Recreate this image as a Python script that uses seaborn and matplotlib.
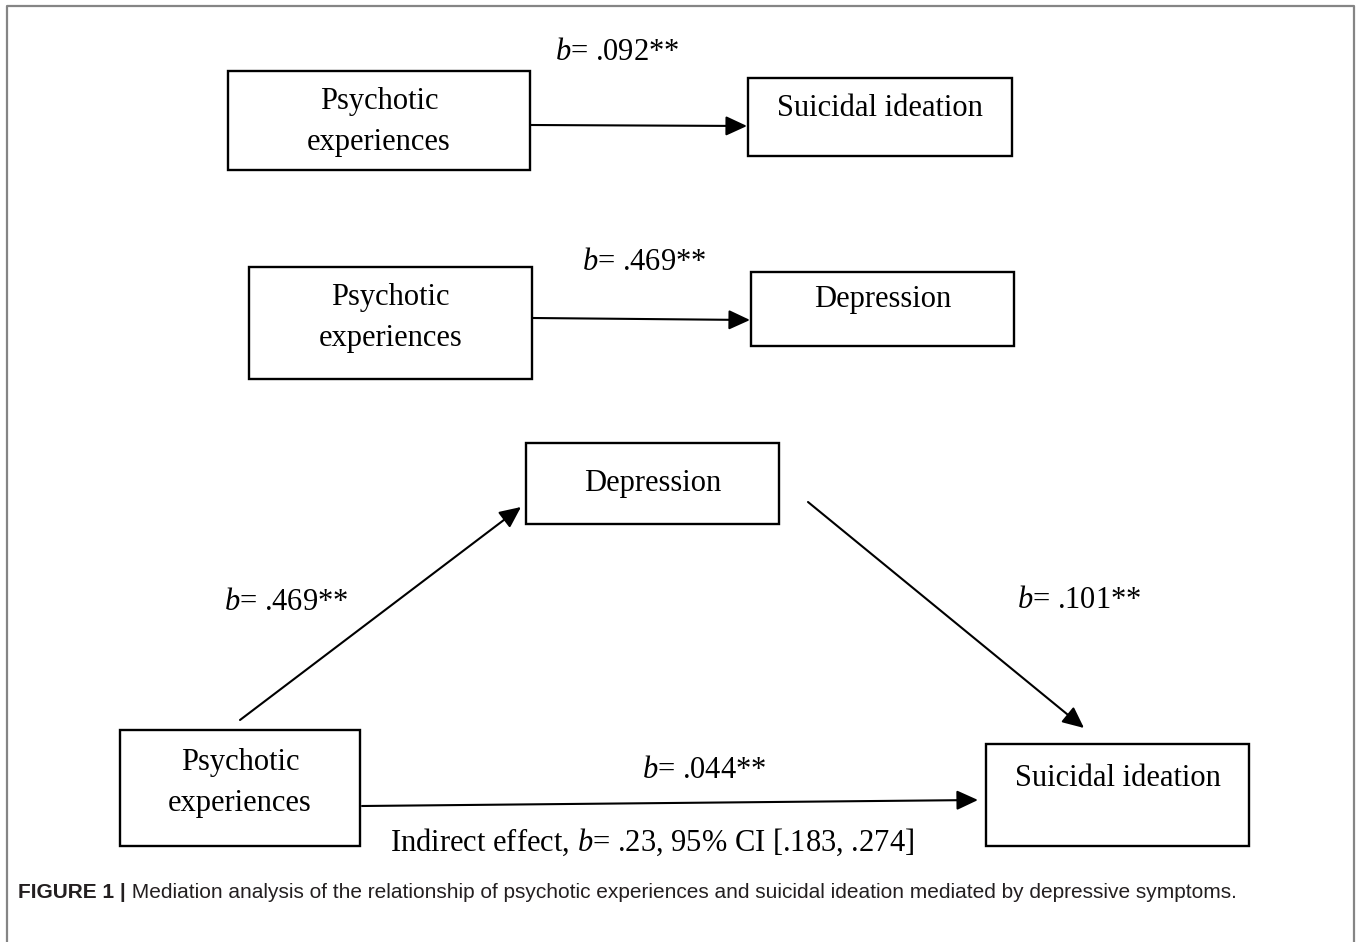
import matplotlib
matplotlib.use("Agg")
import matplotlib.pyplot as plt
import seaborn as sns
from matplotlib.patches import Rectangle

sns.set_theme(style="white")
plt.rcParams["font.family"] = ["Liberation Serif", "DejaVu Serif"]
plt.rcParams["mathtext.fontset"] = "custom"
plt.rcParams["mathtext.it"] = "Liberation Serif:italic"
plt.rcParams["mathtext.rm"] = "Liberation Serif"

# boxes: label, left, top, right, bottom, text y (pixel space of the figure)
box_labels = ["Psychotic\nexperiences", "Suicidal ideation",
              "Psychotic\nexperiences", "Depression",
              "Depression", "Psychotic\nexperiences", "Suicidal ideation"]
box_left = [228, 748, 249, 751, 526, 120, 986]
box_top = [71, 78, 267, 272, 443, 730, 744]
box_right = [530, 1012, 532, 1014, 779, 360, 1249]
box_bottom = [170, 156, 379, 346, 524, 846, 846]
box_text_y = [122, 109, 318, 300, 484, 783, 778]

# paths: start, end, coefficient and where its label sits
arrow_x0 = [531, 533, 240, 808, 362]
arrow_y0 = [125, 318, 720, 502, 806]
arrow_x1 = [747, 750, 521, 1084, 978]
arrow_y1 = [126, 320, 507, 728, 800]
coefs = [".092**", ".469**", ".469**", ".101**", ".044**"]
coef_x = [617, 644, 286, 1079, 704]
coef_y = [52, 263, 602, 600, 770]

indirect = r"Indirect effect, $b$= .23, 95% CI [.183, .274]"
caption_bold = "FIGURE 1 |"
caption_rest = (" Mediation analysis of the relationship of psychotic experiences "
                "and suicidal ideation mediated by depressive symptoms.")

W, H = 1357, 942
fig = plt.figure(figsize=(W / 100, H / 100), dpi=100)
ax = fig.add_axes([0, 0, 1, 1])
ax.set_xlim(0, W)
ax.set_ylim(H, 0)
ax.axis("off")

# outer frame (open at the bottom)
ax.plot([7, 7, 1354, 1354], [H, 6, 6, H], color="#858585", lw=1.6)

for lab, l, t, r, b, ty in zip(box_labels, box_left, box_top, box_right,
                               box_bottom, box_text_y):
    ax.add_patch(Rectangle((l, t), r - l, b - t, fill=False,
                           edgecolor="black", lw=1.7))
    ax.text((l + r) / 2, ty, lab, ha="center", va="center", fontsize=22,
            linespacing=1.56, color="black")

for x0, y0, x1, y1 in zip(arrow_x0, arrow_y0, arrow_x1, arrow_y1):
    ax.annotate("", xy=(x1, y1), xytext=(x0, y0),
                arrowprops=dict(arrowstyle="-|>,head_length=0.65,head_width=0.3",
                                mutation_scale=20, lw=1.5, color="black",
                                shrinkA=0, shrinkB=0))

for c, x, y in zip(coefs, coef_x, coef_y):
    ax.text(x, y, r"$b$= " + c, ha="center", va="center", fontsize=22,
            color="black")

ax.text(652, 842, indirect, ha="center", va="center", fontsize=22, color="black")

# caption: bold lead then regular text
fig.canvas.draw()
t1 = ax.text(18, 893, caption_bold, ha="left", va="center", fontsize=15,
             fontweight="bold", family="Liberation Sans", color="#231f20")
bb = t1.get_window_extent(renderer=fig.canvas.get_renderer())
ax.text(18 + bb.width, 893, caption_rest, ha="left", va="center",
        fontsize=15, family="Liberation Sans", color="#231f20")

fig.savefig("out.png", dpi=100)
